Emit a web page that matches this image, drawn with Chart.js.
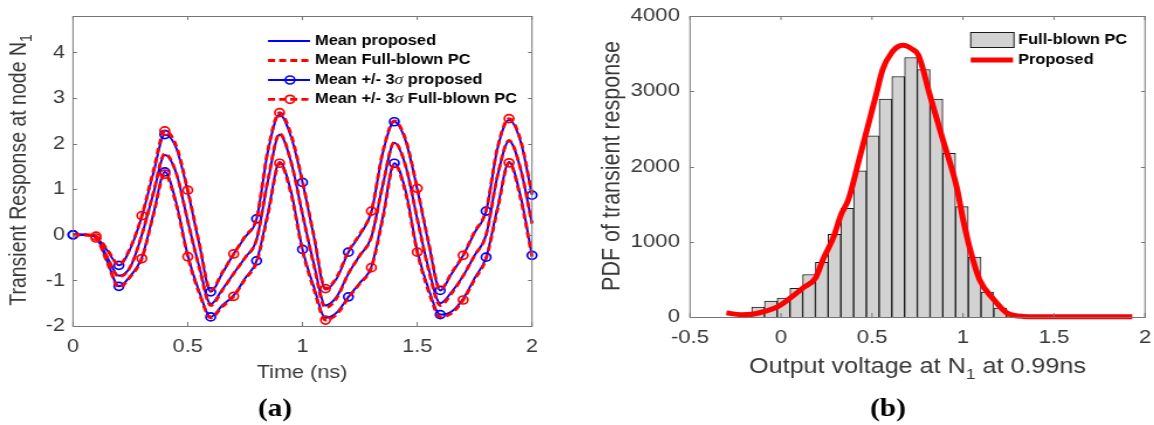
<!DOCTYPE html>
<html><head><meta charset="utf-8">
<script src="https://cdn.jsdelivr.net/npm/chart.js@4.4.1/dist/chart.umd.min.js"></script>
<style>
html,body{margin:0;padding:0;background:#fff;width:1154px;height:425px;overflow:hidden}
.wrap{position:absolute;top:0;height:425px;transform-origin:0 0;transform:scaleX(1.17)}
canvas{display:block}
</style></head><body>
<div class="wrap" style="left:0px;width:491px"><canvas id="ca" width="491" height="425"></canvas></div>
<div class="wrap" style="left:575px;width:495px"><canvas id="cb" width="495" height="425"></canvas></div>
<script>
// ---------------- data: panel (a) ----------------
const timeNs = [0,0.05,0.1,0.15,0.2,0.25,0.3,0.35,0.4,0.45,0.5,0.55,0.6,0.65,0.7,0.75,0.8,0.85,0.9,0.95,1.0,1.05,1.1,1.15,1.2,1.25,1.3,1.35,1.4,1.45,1.5,1.55,1.6,1.65,1.7,1.75,1.8,1.85,1.9,1.95,2.0];
const meanProposed  = [0,0,-0.05,-0.5,-0.9,-0.7,0.0,0.9,1.75,1.35,0.3,-0.7,-1.52,-1.2,-0.85,-0.5,-0.1,1.2,2.2,1.6,0.45,-0.65,-1.55,-1.35,-0.85,-0.45,-0.05,1.1,2.02,1.5,0.35,-0.75,-1.5,-1.25,-0.9,-0.45,0.0,1.3,2.06,1.45,0.25];
const upperProposed = [0,0,-0.05,-0.35,-0.67,-0.3,0.4,1.35,2.2,1.9,0.95,-0.2,-1.25,-0.85,-0.42,-0.05,0.35,1.85,2.64,2.15,1.15,-0.05,-1.2,-0.95,-0.38,0.0,0.5,1.8,2.48,2.05,1.0,-0.2,-1.22,-0.85,-0.45,0.05,0.52,1.9,2.52,2.05,0.87];
const lowerProposed = [0,0,-0.05,-0.6,-1.13,-0.9,-0.5,0.45,1.38,0.7,-0.45,-1.25,-1.8,-1.55,-1.33,-0.95,-0.57,0.5,1.6,0.95,-0.32,-1.15,-1.82,-1.7,-1.36,-1.05,-0.7,0.4,1.57,0.95,-0.35,-1.2,-1.75,-1.68,-1.4,-0.95,-0.49,0.6,1.6,0.85,-0.45];
const meanFull      = [0,0,-0.05,-0.5,-0.92,-0.7,0.0,0.92,1.78,1.35,0.3,-0.72,-1.55,-1.22,-0.85,-0.5,-0.1,1.22,2.22,1.6,0.45,-0.68,-1.6,-1.38,-0.85,-0.45,-0.05,1.1,2.03,1.5,0.35,-0.78,-1.55,-1.28,-0.9,-0.45,0.0,1.3,2.07,1.45,0.25];
const upperFull     = [0,0,-0.03,-0.33,-0.65,-0.28,0.42,1.4,2.28,1.95,0.98,-0.18,-1.22,-0.83,-0.42,-0.03,0.37,1.88,2.68,2.2,1.17,-0.03,-1.18,-0.92,-0.36,0.02,0.52,1.82,2.5,2.08,1.02,-0.18,-1.2,-0.83,-0.45,0.07,0.54,1.92,2.55,2.08,0.9];
const lowerFull     = [0,0,-0.07,-0.62,-1.15,-0.92,-0.52,0.43,1.33,0.66,-0.48,-1.28,-1.82,-1.58,-1.35,-0.97,-0.6,0.46,1.57,0.9,-0.35,-1.2,-1.87,-1.74,-1.38,-1.07,-0.72,0.36,1.55,0.9,-0.38,-1.25,-1.8,-1.72,-1.43,-0.98,-0.52,0.56,1.58,0.8,-0.48];
const markerTimesProposed = [0,0.2,0.4,0.6,0.8,1.0,1.2,1.4,1.6,1.8,2.0];
const markerTimesFull     = [0.1,0.3,0.4,0.5,0.7,0.9,1.1,1.3,1.5,1.7,1.9];
const xTicksA = [0,0.5,1,1.5,2];
const yTicksA = [-2,-1,0,1,2,3,4];

// ---------------- data: panel (b) ----------------
const binCenters = [-0.196,-0.126,-0.056,0.014,0.084,0.154,0.224,0.294,0.364,0.434,0.504,0.574,0.644,0.714,0.784,0.854,0.924,0.994,1.064,1.134,1.204,1.274];
const binCounts  = [40,133,212,252,380,565,725,1100,1445,1944,2408,2895,3196,3448,3289,2895,2175,1467,796,331,119,30];
const pdfVoltage  = [-0.30,-0.22,-0.15,-0.09,-0.02,0.05,0.12,0.19,0.23,0.29,0.33,0.37,0.43,0.52,0.56,0.61,0.64,0.67,0.72,0.755,0.82,0.89,0.965,1.0,1.04,1.09,1.17,1.24,1.33,1.5,1.7,1.93];
const pdfProposed = [55,30,40,75,135,250,385,520,760,1070,1360,1560,2100,2930,3300,3520,3590,3610,3560,3480,2930,2350,1730,1300,890,500,230,55,8,3,3,3];
const xTicksB = [-0.5,0,0.5,1,1.5,2];
const yTicksB = [0,1000,2000,3000,4000];

// ---------------- styling ----------------
const S = 1.17;                       // horizontal stretch of the figure
const FONT = "'Liberation Sans', Arial, Helvetica, sans-serif";
const SERIF = "'Liberation Serif', 'Times New Roman', serif";
const TICKCOL = '#383838';
const AXISCOL = '#767676';
const BLUE = '#0000ff', RED = '#ff0000';
const DASH = [6, 3.5];

function pts(xs, ys){ return xs.map((x,i)=>({x:x, y:ys[i]})); }
function hasMarker(list, t){ return list.some(m => Math.abs(m - t) < 1e-6); }
function lineDs(label, ys, color, dashed, markers){
  return {
    label: label, data: pts(timeNs, ys), borderColor: color,
    borderWidth: dashed ? 2.8 : 2, borderDash: dashed ? DASH : [],
    pointRadius: markers ? (c => hasMarker(markers, timeNs[c.dataIndex]) ? 4 : 0) : 0,
    pointHoverRadius: 0, pointStyle: 'circle',
    pointBorderColor: color, pointBackgroundColor: 'rgba(255,255,255,0)', pointBorderWidth: 1.7,
    cubicInterpolationMode: 'monotone', fill: false, clip: false
  };
}

function frame(chart, xt, yt){
  const ctx = chart.ctx, a = chart.chartArea, x = chart.scales.x, y = chart.scales.y;
  ctx.save();
  ctx.strokeStyle = AXISCOL; ctx.lineWidth = 1; ctx.setLineDash([]);
  ctx.strokeRect(a.left, Math.round(a.top)+0.5, a.right - a.left, Math.round(a.bottom) - Math.round(a.top));
  const TLy = 4, TLx = 4 / S;
  ctx.beginPath();
  xt.forEach(v => { const px = x.getPixelForValue(v);
    ctx.moveTo(px, a.bottom); ctx.lineTo(px, a.bottom - TLy);
    ctx.moveTo(px, a.top); ctx.lineTo(px, a.top + TLy); });
  yt.forEach(v => { const py = Math.round(y.getPixelForValue(v)) + 0.5;
    ctx.moveTo(a.left, py); ctx.lineTo(a.left + TLx, py);
    ctx.moveTo(a.right, py); ctx.lineTo(a.right - TLx, py); });
  ctx.stroke();
  ctx.restore();
}

function drawParts(ctx, parts, cx, cy, rot, align){
  ctx.save(); ctx.translate(cx, cy); if (rot) ctx.rotate(rot);
  let total = 0;
  parts.forEach(p => { ctx.font = p.font; p.w = ctx.measureText(p.text).width; total += p.w; });
  let x = align === 'left' ? 0 : -total / 2;
  ctx.textBaseline = 'middle'; ctx.textAlign = 'left';
  parts.forEach(p => { ctx.font = p.font; ctx.fillStyle = p.color; ctx.fillText(p.text, x, p.dy || 0); x += p.w; });
  ctx.restore();
}

function axisCfg(min, max, ticksArr, size, padding, isX, fitSize){
  return {
    type: 'linear', min: min, max: max, offset: false,
    grid: { display: false, drawTicks: false, offset: false }, border: { display: false },
    ticks: { font: { family: FONT, size: size }, color: TICKCOL, padding: padding,
             maxRotation: 0, autoSkip: false, callback: v => String(v) },
    afterBuildTicks: s => { s.ticks = ticksArr.map(v => ({ value: v })); },
    afterFit: s => {
      if (isX) { s.height = fitSize; s.paddingLeft = 0; s.paddingRight = 0; }
      else { s.width = fitSize; s.paddingTop = 0; s.paddingBottom = 0; }
    }
  };
}

// ---------------- panel (a) ----------------
const plotA = {
  id: 'decorA',
  afterDraw(chart){
    const ctx = chart.ctx;
    frame(chart, xTicksA, yTicksA);
    drawParts(ctx, [{text:'Time (ns)', font:'18.5px '+FONT, color:TICKCOL}], 302/S, 373, 0);
    drawParts(ctx, [
      {text:'Transient Response at node N', font:'19.5px '+FONT, color:TICKCOL},
      {text:'1', font:'14px '+FONT, color:TICKCOL, dy:7}
    ], 19/S, 170, -Math.PI/2);
    drawParts(ctx, [{text:'(a)', font:'bold 25px '+SERIF, color:'#000'}], 275/S, 410, 0);
    // legend
    const x0 = 268/S, x1 = 310/S, tx = 315/S, mid = 290/S;
    const B = 'bold 14px ' + FONT, SIG = 'italic 15px ' + SERIF;
    const rows = [
      {y:41,   color:BLUE, dash:[],   w:2,   mk:false, parts:[{text:'Mean proposed', font:B, color:'#000'}]},
      {y:60.5, color:RED,  dash:DASH, w:2.8, mk:false, parts:[{text:'Mean Full-blown PC', font:B, color:'#000'}]},
      {y:80,   color:BLUE, dash:[],   w:2,   mk:true,  parts:[{text:'Mean +/- 3', font:B, color:'#000'},{text:'\u03C3', font:SIG, color:'#000'},{text:' proposed', font:B, color:'#000'}]},
      {y:99.3, color:RED,  dash:DASH, w:2.8, mk:true,  parts:[{text:'Mean +/- 3', font:B, color:'#000'},{text:'\u03C3', font:SIG, color:'#000'},{text:' Full-blown PC', font:B, color:'#000'}]}
    ];
    rows.forEach(r => {
      ctx.save();
      ctx.strokeStyle = r.color; ctx.lineWidth = r.w; ctx.setLineDash(r.dash);
      ctx.beginPath(); ctx.moveTo(x0, r.y); ctx.lineTo(x1, r.y); ctx.stroke();
      if (r.mk) { ctx.setLineDash([]); ctx.lineWidth = 1.7; ctx.beginPath(); ctx.arc(mid, r.y, 4, 0, Math.PI*2); ctx.stroke(); }
      ctx.restore();
      drawParts(ctx, r.parts, tx, r.y, 0, 'left');
    });
  }
};

new Chart(document.getElementById('ca'), {
  type: 'line',
  data: { datasets: [
    lineDs('Mean +/- 3σ Full-blown PC (upper)', upperFull, RED, true, markerTimesFull),
    lineDs('Mean +/- 3σ Full-blown PC (lower)', lowerFull, RED, true, markerTimesFull),
    lineDs('Mean Full-blown PC', meanFull, RED, true, null),
    lineDs('Mean +/- 3σ proposed (upper)', upperProposed, BLUE, false, markerTimesProposed),
    lineDs('Mean +/- 3σ proposed (lower)', lowerProposed, BLUE, false, markerTimesProposed),
    lineDs('Mean proposed', meanProposed, BLUE, false, null)
  ]},
  options: {
    responsive: false, animation: false, devicePixelRatio: 1,
    layout: { padding: { left: 0, top: 16, right: 491 - 532/S, bottom: 0 } },
    plugins: { legend: { display: false }, tooltip: { enabled: false } },
    scales: {
      x: axisCfg(0, 2, xTicksA, 18.5, 9.9, true, 425 - 326),
      y: axisCfg(-2, 4.8, yTicksA, 18.5, 8/S, false, 73/S)
    }
  },
  plugins: [plotA]
});

// ---------------- panel (b) ----------------
const plotB = {
  id: 'decorB',
  afterDraw(chart){
    const ctx = chart.ctx;
    frame(chart, xTicksB, yTicksB);
    drawParts(ctx, [
      {text:'Output voltage at N', font:'21.5px '+FONT, color:TICKCOL},
      {text:'1', font:'15px '+FONT, color:TICKCOL, dy:8},
      {text:' at 0.99ns', font:'21.5px '+FONT, color:TICKCOL}
    ], (917.5-575)/S, 367, 0);
    drawParts(ctx, [{text:'PDF of transient response', font:'21.5px '+FONT, color:TICKCOL}], (612-575)/S, 166, -Math.PI/2);
    drawParts(ctx, [{text:'(b)', font:'bold 25px '+SERIF, color:'#000'}], (888-575)/S, 410, 0);
    // legend
    const lx0 = (970.7-575)/S, lx1 = (1014-575)/S, tx = (1018-575)/S;
    const B = 'bold 14px ' + FONT;
    ctx.save();
    ctx.fillStyle = '#d2d2d2'; ctx.strokeStyle = '#1a1a1a'; ctx.lineWidth = 1;
    ctx.fillRect(lx0, 32.5, lx1 - lx0, 15); ctx.strokeRect(lx0, 32.5, lx1 - lx0, 15);
    ctx.strokeStyle = RED; ctx.lineWidth = 5;
    ctx.beginPath(); ctx.moveTo(lx0, 60); ctx.lineTo((1013-575)/S, 60); ctx.stroke();
    ctx.restore();
    drawParts(ctx, [{text:'Full-blown PC', font:B, color:'#000'}], tx, 40.5, 0, 'left');
    drawParts(ctx, [{text:'Proposed', font:B, color:'#000'}], tx, 60, 0, 'left');
  }
};

new Chart(document.getElementById('cb'), {
  type: 'bar',
  data: { datasets: [
    { type: 'line', label: 'Proposed', data: pts(pdfVoltage, pdfProposed), borderColor: RED, borderWidth: 5,
      pointRadius: 0, pointHoverRadius: 0, cubicInterpolationMode: 'monotone', fill: false, clip: false, order: 0 },
    { type: 'bar', label: 'Full-blown PC', data: pts(binCenters, binCounts), backgroundColor: '#d2d2d2',
      borderColor: '#1a1a1a', borderWidth: 1, barPercentage: 1, categoryPercentage: 1, grouped: false, order: 1 }
  ]},
  options: {
    responsive: false, animation: false, devicePixelRatio: 1,
    layout: { padding: { left: 0, top: 16, right: 495 - 570/S, bottom: 0 } },
    plugins: { legend: { display: false }, tooltip: { enabled: false } },
    scales: {
      x: axisCfg(-0.5, 2, xTicksB, 19, 8.9, true, 425 - 317),
      y: axisCfg(0, 4000, yTicksB, 19, 10/S, false, 115/S)
    }
  },
  plugins: [plotB]
});
</script>
</body></html>
